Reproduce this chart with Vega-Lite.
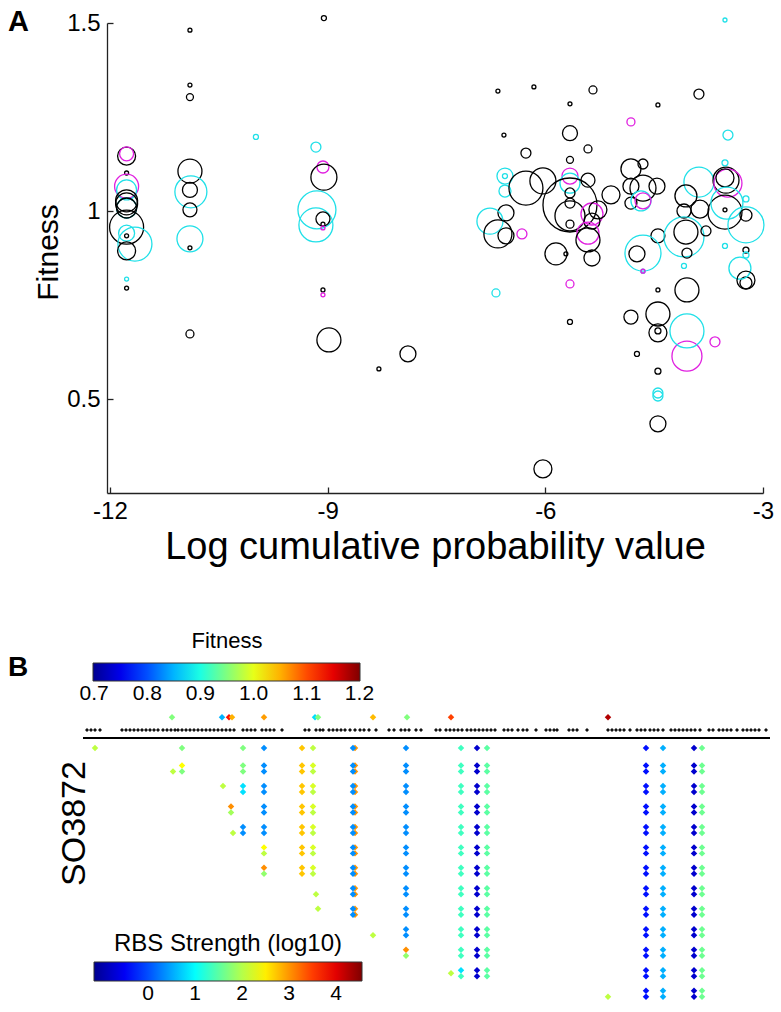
{
  "$schema": "https://vega.github.io/schema/vega-lite/v6.json",
  "background": "white",
  "autosize": {"type": "pad"},
  "padding": {"left": 8, "top": 8, "right": 0, "bottom": 0},
  "config": {
    "font": "Liberation Sans",
    "view": {"stroke": null},
    "axis": {"grid": false, "labelColor": "#000", "titleColor": "#000", "domainColor": "#222", "tickColor": "#222", "titleFontWeight": "normal"},
    "legend": {"labelColor": "#000", "titleColor": "#000", "titleFontWeight": "normal", "titleLimit": 500}
  },
  "spacing": 65,
  "resolve": {"scale": {"color": "independent", "fill": "independent", "stroke": "independent", "size": "independent"}, "legend": {"color": "independent", "fill": "independent", "stroke": "independent", "size": "independent"}},
  "vconcat": [
    {
      "width": 656,
      "height": 470,
      "title": {"text": "A", "anchor": "start", "frame": "group", "dx": -99, "dy": 30, "fontSize": 29, "fontWeight": "bold", "color": "#000"},
      "data": {"values": [
        {"x":-11.77,"y":1.146,"n":9,"g":"k"},
        {"x":-11.77,"y":1.152,"n":7,"g":"m"},
        {"x":-11.77,"y":1.101,"n":2,"g":"k"},
        {"x":-11.77,"y":1.066,"n":12,"g":"m"},
        {"x":-11.77,"y":1.056,"n":10,"g":"c"},
        {"x":-11.77,"y":1.008,"n":10,"g":"c"},
        {"x":-11.77,"y":1.027,"n":11,"g":"k"},
        {"x":-11.77,"y":1.019,"n":11,"g":"k"},
        {"x":-11.77,"y":1.008,"n":10,"g":"k"},
        {"x":-11.77,"y":0.957,"n":17,"g":"k"},
        {"x":-11.77,"y":0.941,"n":8,"g":"c"},
        {"x":-11.77,"y":0.934,"n":2,"g":"k"},
        {"x":-11.655,"y":0.912,"n":17,"g":"c"},
        {"x":-11.77,"y":0.894,"n":9,"g":"k"},
        {"x":-11.77,"y":0.819,"n":2,"g":"c"},
        {"x":-11.77,"y":0.795,"n":2,"g":"k"},
        {"x":-10.897,"y":1.481,"n":2,"g":"k"},
        {"x":-10.897,"y":1.335,"n":2,"g":"k"},
        {"x":-10.897,"y":1.303,"n":3.5,"g":"k"},
        {"x":-10.897,"y":1.106,"n":12,"g":"k"},
        {"x":-10.884,"y":1.051,"n":16,"g":"c"},
        {"x":-10.897,"y":1.056,"n":7.5,"g":"k"},
        {"x":-10.897,"y":1.003,"n":7,"g":"k"},
        {"x":-10.897,"y":0.926,"n":13,"g":"c"},
        {"x":-10.897,"y":0.902,"n":2,"g":"k"},
        {"x":-10.897,"y":0.673,"n":4,"g":"k"},
        {"x":-9.988,"y":1.197,"n":2.5,"g":"c"},
        {"x":-9.051,"y":1.513,"n":2.5,"g":"k"},
        {"x":-9.161,"y":1.17,"n":5,"g":"c"},
        {"x":-9.064,"y":1.117,"n":6,"g":"m"},
        {"x":-9.051,"y":1.09,"n":13,"g":"k"},
        {"x":-9.147,"y":1.003,"n":19,"g":"c"},
        {"x":-9.161,"y":0.963,"n":17,"g":"c"},
        {"x":-9.064,"y":0.979,"n":7,"g":"k"},
        {"x":-9.064,"y":0.965,"n":2,"g":"k"},
        {"x":-9.064,"y":0.955,"n":2,"g":"m"},
        {"x":-9.064,"y":0.79,"n":2,"g":"k"},
        {"x":-9.064,"y":0.777,"n":2,"g":"m"},
        {"x":-8.982,"y":0.657,"n":12,"g":"k"},
        {"x":-8.293,"y":0.58,"n":2,"g":"k"},
        {"x":-7.893,"y":0.62,"n":8,"g":"k"},
        {"x":-3.524,"y":1.508,"n":2,"g":"c"},
        {"x":-6.653,"y":1.319,"n":2,"g":"k"},
        {"x":-6.157,"y":1.33,"n":2,"g":"k"},
        {"x":-5.343,"y":1.322,"n":4,"g":"k"},
        {"x":-5.66,"y":1.285,"n":2,"g":"k"},
        {"x":-4.448,"y":1.282,"n":2,"g":"k"},
        {"x":-3.883,"y":1.311,"n":5,"g":"k"},
        {"x":-4.82,"y":1.237,"n":4,"g":"m"},
        {"x":-6.57,"y":1.202,"n":2,"g":"k"},
        {"x":-5.66,"y":1.207,"n":7.5,"g":"k"},
        {"x":-5.412,"y":1.165,"n":4,"g":"k"},
        {"x":-6.267,"y":1.154,"n":5,"g":"k"},
        {"x":-3.483,"y":1.202,"n":5,"g":"c"},
        {"x":-5.66,"y":1.136,"n":3.5,"g":"k"},
        {"x":-6.556,"y":1.093,"n":8,"g":"c"},
        {"x":-6.556,"y":1.093,"n":2.5,"g":"c"},
        {"x":-6.556,"y":1.053,"n":6,"g":"c"},
        {"x":-6.267,"y":1.061,"n":17,"g":"k"},
        {"x":-6.033,"y":1.08,"n":13,"g":"k"},
        {"x":-5.66,"y":1.093,"n":8,"g":"m"},
        {"x":-5.66,"y":1.074,"n":10,"g":"c"},
        {"x":-5.66,"y":1.016,"n":27,"g":"k"},
        {"x":-5.66,"y":1.048,"n":5,"g":"k"},
        {"x":-5.66,"y":1.021,"n":5,"g":"k"},
        {"x":-5.412,"y":1.082,"n":7,"g":"k"},
        {"x":-5.095,"y":1.043,"n":9,"g":"k"},
        {"x":-5.66,"y":0.987,"n":15,"g":"k"},
        {"x":-5.66,"y":0.965,"n":4,"g":"k"},
        {"x":-5.357,"y":0.992,"n":11,"g":"m"},
        {"x":-5.275,"y":1.003,"n":9,"g":"k"},
        {"x":-5.357,"y":0.973,"n":8,"g":"k"},
        {"x":-5.412,"y":0.941,"n":11,"g":"m"},
        {"x":-5.412,"y":0.923,"n":12,"g":"k"},
        {"x":-5.357,"y":0.875,"n":8,"g":"k"},
        {"x":-6.542,"y":0.995,"n":8,"g":"k"},
        {"x":-6.763,"y":0.973,"n":13,"g":"c"},
        {"x":-6.653,"y":0.939,"n":14,"g":"k"},
        {"x":-6.542,"y":0.934,"n":8,"g":"k"},
        {"x":-6.322,"y":0.939,"n":5,"g":"m"},
        {"x":-5.853,"y":0.886,"n":11,"g":"k"},
        {"x":-5.716,"y":0.886,"n":2,"g":"k"},
        {"x":-6.68,"y":0.782,"n":4,"g":"c"},
        {"x":-5.66,"y":0.806,"n":4,"g":"m"},
        {"x":-5.66,"y":0.705,"n":2.5,"g":"k"},
        {"x":-4.82,"y":1.112,"n":10,"g":"k"},
        {"x":-4.654,"y":1.125,"n":5,"g":"k"},
        {"x":-4.654,"y":1.061,"n":13,"g":"k"},
        {"x":-4.82,"y":1.066,"n":8,"g":"k"},
        {"x":-4.461,"y":1.066,"n":8,"g":"k"},
        {"x":-4.82,"y":1.021,"n":6,"g":"k"},
        {"x":-4.682,"y":1.027,"n":10,"g":"c"},
        {"x":-4.654,"y":1.027,"n":8,"g":"m"},
        {"x":-4.448,"y":0.934,"n":7,"g":"k"},
        {"x":-4.654,"y":0.888,"n":18,"g":"c"},
        {"x":-4.737,"y":0.886,"n":8,"g":"k"},
        {"x":-4.654,"y":0.84,"n":2,"g":"c"},
        {"x":-4.654,"y":0.84,"n":2,"g":"m"},
        {"x":-4.448,"y":0.79,"n":2,"g":"k"},
        {"x":-4.82,"y":0.718,"n":7,"g":"k"},
        {"x":-4.448,"y":0.726,"n":12,"g":"k"},
        {"x":-4.448,"y":0.676,"n":9,"g":"k"},
        {"x":-4.448,"y":0.681,"n":3,"g":"k"},
        {"x":-4.448,"y":0.574,"n":3,"g":"k"},
        {"x":-4.448,"y":0.516,"n":5,"g":"c"},
        {"x":-4.448,"y":0.508,"n":5,"g":"c"},
        {"x":-4.448,"y":0.434,"n":8,"g":"k"},
        {"x":-6.033,"y":0.314,"n":9,"g":"k"},
        {"x":-4.737,"y":0.62,"n":2.5,"g":"k"},
        {"x":-3.662,"y":0.652,"n":5,"g":"m"},
        {"x":-4.048,"y":0.614,"n":15,"g":"m"},
        {"x":-4.048,"y":0.681,"n":17,"g":"c"},
        {"x":-4.048,"y":0.79,"n":12,"g":"k"},
        {"x":-3.235,"y":0.809,"n":6,"g":"k"},
        {"x":-3.883,"y":1.077,"n":15,"g":"c"},
        {"x":-3.51,"y":1.082,"n":13,"g":"k"},
        {"x":-3.483,"y":1.074,"n":14,"g":"m"},
        {"x":-3.524,"y":1.088,"n":9,"g":"k"},
        {"x":-3.524,"y":1.128,"n":3,"g":"c"},
        {"x":-3.235,"y":1.032,"n":3,"g":"c"},
        {"x":-4.062,"y":1.04,"n":11,"g":"k"},
        {"x":-4.089,"y":1.0,"n":7,"g":"k"},
        {"x":-3.869,"y":1.005,"n":9,"g":"k"},
        {"x":-3.524,"y":0.997,"n":17,"g":"k"},
        {"x":-3.497,"y":1.021,"n":16,"g":"c"},
        {"x":-3.524,"y":1.003,"n":2,"g":"k"},
        {"x":-3.235,"y":0.989,"n":6,"g":"k"},
        {"x":-3.235,"y":0.963,"n":18,"g":"c"},
        {"x":-4.062,"y":0.944,"n":12,"g":"k"},
        {"x":-4.089,"y":0.931,"n":20,"g":"c"},
        {"x":-3.786,"y":0.947,"n":5,"g":"k"},
        {"x":-4.048,"y":0.888,"n":5,"g":"k"},
        {"x":-4.089,"y":0.854,"n":2.5,"g":"c"},
        {"x":-3.524,"y":0.907,"n":2.5,"g":"c"},
        {"x":-3.318,"y":0.848,"n":11,"g":"c"},
        {"x":-3.235,"y":0.816,"n":9,"g":"k"},
        {"x":-3.235,"y":0.896,"n":3,"g":"k"},
        {"x":-3.235,"y":0.883,"n":3,"g":"c"}
      ]},
      "mark": {"type": "point", "shape": "circle", "filled": false, "strokeWidth": 1.3, "opacity": 1},
      "encoding": {
        "x": {"field": "x", "type": "quantitative",
          "scale": {"domain": [-12.04, -3], "nice": false, "zero": false},
          "axis": {"values": [-12, -9, -6, -3], "labelExpr": "toString(datum.value)", "title": "Log cumulative probability value",
            "titleFontSize": 38, "labelFontSize": 24, "tickSize": -6, "labelPadding": 12, "titleY": 35,
            "domainWidth": 1.3, "tickWidth": 1.3, "labelFlush": false, "labelOverlap": false}},
        "y": {"field": "y", "type": "quantitative",
          "scale": {"domain": [0.25, 1.5], "nice": false, "zero": false},
          "axis": {"values": [0.5, 1, 1.5], "labelExpr": "toString(datum.value)", "title": "Fitness",
            "titleFontSize": 30, "labelFontSize": 24, "tickSize": -6, "labelPadding": 13, "titleX": -44, "titleY": 229,
            "domainWidth": 1.3, "tickWidth": 1.3, "labelFlush": false, "labelOverlap": false}},
        "stroke": {"field": "g", "type": "nominal", "scale": {"domain": ["k", "c", "m"], "range": ["#000000", "#20e0e8", "#e020e0"]}, "legend": null},
        "size": {"field": "n", "type": "quantitative", "scale": {"type": "pow", "exponent": 2, "domain": [0, 30], "range": [0, 3600]}, "legend": null}
      }
    },
    {
      "width": 656,
      "height": 297,
      "title": {"text": "B", "anchor": "start", "frame": "group", "dx": -99, "dy": 55, "fontSize": 28, "fontWeight": "bold", "color": "#000"},
      "layer": [
        {
          "data": {"values": [{"p0": 0, "p1": 687, "r": -0.49}]},
          "mark": {"type": "rule", "color": "#000", "strokeWidth": 2},
          "encoding": {
            "x": {"field": "p0", "type": "quantitative", "scale": {"domain": [24, 680], "nice": false, "zero": false}, "axis": null},
            "x2": {"field": "p1"},
            "y": {"field": "r", "type": "quantitative", "scale": {"domain": [-2, 12.5], "nice": false, "zero": false, "reverse": true},
              "axis": {"title": "SO3872", "labels": false, "ticks": false, "domain": false, "grid": false, "titleFontSize": 34, "titleX": -16, "titleY": 116}}
          }
        },
        {
          "data": {"values": [
            {"p":4},{"p":8},{"p":12},{"p":17},
            {"p":39},{"p":43},{"p":47},{"p":51},{"p":55},{"p":59},{"p":63},{"p":67},{"p":71},{"p":75},
            {"p":80},{"p":84},{"p":88},{"p":92},{"p":95},
            {"p":99},{"p":103},{"p":107},{"p":111},{"p":115},{"p":119},{"p":123},{"p":127},{"p":131},{"p":135},{"p":139},{"p":143},{"p":147},{"p":151},
            {"p":160},{"p":164},{"p":168},{"p":172},{"p":179},{"p":183},{"p":187},{"p":191},{"p":199},
            {"p":222},{"p":226},{"p":233},{"p":237},{"p":240},
            {"p":246},{"p":250},{"p":254},{"p":258},{"p":262},{"p":267},{"p":272},{"p":277},{"p":281},{"p":286},{"p":293},
            {"p":306},{"p":311},{"p":318},{"p":322},{"p":326},{"p":333},{"p":338},
            {"p":353},{"p":357},{"p":363},{"p":367},{"p":371},{"p":375},{"p":379},{"p":384},
            {"p":388},{"p":392},{"p":396},{"p":400},{"p":404},{"p":408},{"p":412},
            {"p":421},{"p":425},{"p":429},{"p":435},{"p":440},{"p":444},
            {"p":453},
            {"p":463},{"p":467},{"p":471},{"p":474},
            {"p":486},{"p":490},{"p":494},{"p":504},
            {"p":525},{"p":529},{"p":533},{"p":537},{"p":541},{"p":547},
            {"p":554},{"p":558},{"p":562},{"p":567},{"p":571},{"p":575},{"p":580},
            {"p":588},{"p":592},{"p":596},{"p":600},{"p":604},{"p":608},{"p":612},{"p":617},
            {"p":626},{"p":630},{"p":636},{"p":640},{"p":644},{"p":648},{"p":654},
            {"p":660},{"p":664},{"p":668},{"p":672},{"p":676},{"p":683}
          ]},
          "mark": {"type": "point", "shape": "diamond", "filled": true, "size": 16, "color": "#111", "opacity": 1},
          "encoding": {
            "x": {"field": "p", "type": "quantitative", "scale": {"domain": [24, 680], "nice": false, "zero": false}, "axis": null},
            "y": {"datum": -0.88, "type": "quantitative", "scale": {"domain": [-2, 12.5], "nice": false, "zero": false, "reverse": true},
              "axis": {"title": "SO3872", "labels": false, "ticks": false, "domain": false, "grid": false, "titleFontSize": 34, "titleX": -16, "titleY": 116}}
          }
        },
        {
          "data": {"values": [
            {"p":89,"f":0.95},{"p":139,"f":0.849},{"p":146,"f":1.13},{"p":149,"f":1.05},{"p":181,"f":1.06},
            {"p":232,"f":0.87},{"p":235,"f":0.95},{"p":290,"f":1.045},{"p":324,"f":0.95},{"p":368,"f":1.105},{"p":525,"f":1.175}
          ]},
          "mark": {"type": "point", "shape": "diamond", "filled": true, "size": 42, "opacity": 1},
          "encoding": {
            "x": {"field": "p", "type": "quantitative", "scale": {"domain": [24, 680], "nice": false, "zero": false}, "axis": null},
            "y": {"datum": -1.5, "type": "quantitative", "scale": {"domain": [-2, 12.5], "nice": false, "zero": false, "reverse": true},
              "axis": {"title": "SO3872", "labels": false, "ticks": false, "domain": false, "grid": false, "titleFontSize": 34, "titleX": -16, "titleY": 116}},
            "color": {"field": "f", "type": "quantitative",
              "scale": {"domain": [0.698, 0.76075, 0.8235, 0.88625, 0.949, 1.01175, 1.0745, 1.13725, 1.2],
                "range": ["#00008f", "#0000ff", "#007fff", "#00ffff", "#7fff7f", "#ffff00", "#ff7f00", "#ff0000", "#7f0000"], "interpolate": "rgb"},
              "legend": {"orient": "none", "direction": "horizontal", "legendX": -14, "legendY": -76, "gradientLength": 267, "gradientThickness": 18,
                "title": "Fitness", "titleFontSize": 22, "titleAnchor": "middle", "titlePadding": 10, "labelFontSize": 21,
                "values": [0.7, 0.8, 0.9, 1.0, 1.1, 1.199], "labelExpr": "format(datum.value, '.1f')", "gradientStrokeColor": "#333", "gradientStrokeWidth": 1}}
          }
        },
        {
          "data": {"values": [
            {"p":12,"r":0,"v":2.05},{"p":99,"r":0,"v":1.7},{"p":160,"r":0,"v":1.7},{"p":181,"r":0,"v":0.36},
            {"p":219,"r":0,"v":2.73},{"p":230,"r":0,"v":2.05},{"p":272,"r":0,"v":3.0},{"p":270,"r":0,"v":0.36},
            {"p":323,"r":0,"v":0.36},{"p":378,"r":0,"v":1.34},{"p":394,"r":0,"v":-0.75},{"p":404,"r":0,"v":1.5},
            {"p":563,"r":0,"v":-0.35},{"p":580,"r":0,"v":0.54},{"p":611,"r":0,"v":-0.75},{"p":619,"r":0,"v":1.6},
            {"p":368,"r":11,"v":2.05}
          ]},
          "mark": {"type": "point", "shape": "diamond", "filled": true, "size": 42, "opacity": 1},
          "encoding": {
            "x": {"field": "p", "type": "quantitative", "scale": {"domain": [24, 680], "nice": false, "zero": false}, "axis": null},
            "y": {"field": "r", "type": "quantitative", "scale": {"domain": [-2, 12.5], "nice": false, "zero": false, "reverse": true},
              "axis": {"title": "SO3872", "labels": false, "ticks": false, "domain": false, "grid": false, "titleFontSize": 34, "titleX": -16, "titleY": 116}},
            "fill": {"field": "v", "type": "quantitative",
              "scale": {"domain": [-1.15, -0.4375, 0.275, 0.9875, 1.7, 2.4125, 3.125, 3.8375, 4.55],
                "range": ["#00008f", "#0000ff", "#007fff", "#00ffff", "#7fff7f", "#ffff00", "#ff7f00", "#ff0000", "#7f0000"], "interpolate": "rgb"},
              "legend": {"orient": "none", "direction": "horizontal", "legendX": -13, "legendY": 225, "gradientLength": 268, "gradientThickness": 19,
                "title": "RBS Strength (log10)", "titleFontSize": 24, "titleAnchor": "middle", "titlePadding": 6, "labelFontSize": 21,
                "values": [0, 1, 2, 3, 4], "format": "d", "gradientStrokeColor": "#333", "gradientStrokeWidth": 1}}
          }
        },
        {
          "data": {"name": "pairsTop", "values": [
            {"p":90,"r":1,"b":2.05},{"p":99,"r":1,"t":2.41,"b":1.7},{"p":140,"r":2,"t":2.05},{"p":148,"r":3,"t":3.04,"b":1.9},{"p":150,"r":4,"b":2.05},
            {"p":160,"r":1,"t":1.7,"b":1.7},{"p":160,"r":2,"t":0.82,"b":0.82},{"p":160,"r":4,"t":0.36,"b":0.36},
            {"p":181,"r":1,"t":0.36,"b":0.36},{"p":181,"r":2,"t":0.36,"b":0.36},{"p":181,"r":3,"t":0.36,"b":0.36},{"p":181,"r":4,"t":0.36,"b":0.36},{"p":181,"r":5,"t":2.41,"b":2.05},{"p":181,"r":6,"t":3.04,"b":1.8},
            {"p":219,"r":1,"t":2.73,"b":2.73},{"p":219,"r":2,"t":2.73,"b":2.73},{"p":219,"r":3,"t":2.73,"b":2.73},{"p":219,"r":4,"t":2.73,"b":2.73},{"p":219,"r":5,"t":2.73,"b":2.73},{"p":219,"r":6,"t":2.73,"b":2.73},
            {"p":230,"r":1,"t":2.2,"b":2.05},{"p":230,"r":2,"t":2.2,"b":2.05},{"p":230,"r":3,"t":2.2,"b":2.05},{"p":230,"r":4,"t":2.2,"b":2.05},{"p":230,"r":5,"t":2.2,"b":2.05},{"p":230,"r":6,"t":2.2,"b":2.05},
            {"p":233,"r":7,"b":2.05},{"p":235,"r":8,"t":2.05},
            {"p":272,"r":1,"t":3.0,"b":3.0},{"p":272,"r":2,"t":3.0,"b":3.0},{"p":272,"r":3,"t":3.0,"b":3.0},{"p":272,"r":4,"t":3.0,"b":3.0},{"p":272,"r":5,"t":3.0,"b":3.0},{"p":272,"r":6,"t":3.0,"b":3.0},{"p":272,"r":7,"t":3.0,"b":3.0},{"p":272,"r":8,"t":3.0,"b":3.0},
            {"p":270,"r":1,"t":0.36,"b":0.36},{"p":270,"r":2,"t":0.36,"b":0.36},{"p":270,"r":3,"t":0.36,"b":0.36},{"p":270,"r":4,"t":0.36,"b":0.36},{"p":270,"r":5,"t":0.36,"b":0.36},{"p":270,"r":6,"t":0.36,"b":0.36},{"p":270,"r":7,"t":0.36,"b":0.36},{"p":270,"r":8,"t":0.36,"b":0.36},
            {"p":290,"r":9,"b":2.05},
            {"p":323,"r":1,"t":0.36,"b":0.36},{"p":323,"r":2,"t":0.36,"b":0.36},{"p":323,"r":3,"t":0.36,"b":0.36},{"p":323,"r":4,"t":0.36,"b":0.36},{"p":323,"r":5,"t":0.36,"b":0.36},{"p":323,"r":6,"t":0.36,"b":0.36},{"p":323,"r":7,"t":0.36,"b":0.36},{"p":323,"r":8,"t":0.36,"b":0.36},{"p":323,"r":9,"t":0.36,"b":0.36},{"p":323,"r":10,"t":3.04,"b":1.8},
            {"p":378,"r":1,"t":1.34,"b":1.34},{"p":378,"r":2,"t":1.34,"b":1.34},{"p":378,"r":3,"t":1.34,"b":1.34},{"p":378,"r":4,"t":1.34,"b":1.34},{"p":378,"r":5,"t":1.34,"b":1.34},{"p":378,"r":6,"t":1.34,"b":1.34},{"p":378,"r":7,"t":1.34,"b":1.34},{"p":378,"r":8,"t":1.34,"b":1.34},{"p":378,"r":9,"t":1.34,"b":1.34},{"p":378,"r":10,"t":1.34,"b":1.34},{"p":378,"r":11,"t":0.82,"b":1.34},
            {"p":394,"r":1,"t":-0.75,"b":-0.75},{"p":394,"r":2,"t":-0.75,"b":-0.75},{"p":394,"r":3,"t":-0.75,"b":-0.75},{"p":394,"r":4,"t":-0.75,"b":-0.75},{"p":394,"r":5,"t":-0.75,"b":-0.75},{"p":394,"r":6,"t":-0.75,"b":-0.75},{"p":394,"r":7,"t":-0.75,"b":-0.75},{"p":394,"r":8,"t":-0.75,"b":-0.75},{"p":394,"r":9,"t":-0.75,"b":-0.75},{"p":394,"r":10,"t":-0.75,"b":-0.75},{"p":394,"r":11,"t":-0.75,"b":-0.75},
            {"p":404,"r":1,"t":1.5,"b":1.5},{"p":404,"r":2,"t":1.5,"b":1.5},{"p":404,"r":3,"t":1.5,"b":1.5},{"p":404,"r":4,"t":1.5,"b":1.5},{"p":404,"r":5,"t":1.5,"b":1.5},{"p":404,"r":6,"t":1.5,"b":1.5},{"p":404,"r":7,"t":1.5,"b":1.5},{"p":404,"r":8,"t":1.5,"b":1.5},{"p":404,"r":9,"t":1.5,"b":1.5},{"p":404,"r":10,"t":1.5,"b":1.5},{"p":404,"r":11,"t":1.5,"b":1.5},
            {"p":525,"r":12,"b":2.05},
            {"p":563,"r":1,"t":-0.35,"b":-0.35},{"p":563,"r":2,"t":-0.35,"b":-0.35},{"p":563,"r":3,"t":-0.35,"b":-0.35},{"p":563,"r":4,"t":-0.35,"b":-0.35},{"p":563,"r":5,"t":-0.35,"b":-0.35},{"p":563,"r":6,"t":-0.35,"b":-0.35},{"p":563,"r":7,"t":-0.35,"b":-0.35},{"p":563,"r":8,"t":-0.35,"b":-0.35},{"p":563,"r":9,"t":-0.35,"b":-0.35},{"p":563,"r":10,"t":-0.35,"b":-0.35},{"p":563,"r":11,"t":-0.35,"b":-0.35},{"p":563,"r":12,"t":-0.35,"b":-0.35},
            {"p":580,"r":1,"t":0.54,"b":0.54},{"p":580,"r":2,"t":0.54,"b":0.54},{"p":580,"r":3,"t":0.54,"b":0.54},{"p":580,"r":4,"t":0.54,"b":0.54},{"p":580,"r":5,"t":0.54,"b":0.54},{"p":580,"r":6,"t":0.54,"b":0.54},{"p":580,"r":7,"t":0.54,"b":0.54},{"p":580,"r":8,"t":0.54,"b":0.54},{"p":580,"r":9,"t":0.54,"b":0.54},{"p":580,"r":10,"t":0.54,"b":0.54},{"p":580,"r":11,"t":0.54,"b":0.54},{"p":580,"r":12,"t":0.54,"b":0.54},
            {"p":611,"r":1,"t":-0.75,"b":-0.75},{"p":611,"r":2,"t":-0.75,"b":-0.75},{"p":611,"r":3,"t":-0.75,"b":-0.75},{"p":611,"r":4,"t":-0.75,"b":-0.75},{"p":611,"r":5,"t":-0.75,"b":-0.75},{"p":611,"r":6,"t":-0.75,"b":-0.75},{"p":611,"r":7,"t":-0.75,"b":-0.75},{"p":611,"r":8,"t":-0.75,"b":-0.75},{"p":611,"r":9,"t":-0.75,"b":-0.75},{"p":611,"r":10,"t":-0.75,"b":-0.75},{"p":611,"r":11,"t":-0.75,"b":-0.75},{"p":611,"r":12,"t":-0.75,"b":-0.75},
            {"p":619,"r":1,"t":1.6,"b":1.6},{"p":619,"r":2,"t":1.6,"b":1.6},{"p":619,"r":3,"t":1.6,"b":1.6},{"p":619,"r":4,"t":1.6,"b":1.6},{"p":619,"r":5,"t":1.6,"b":1.6},{"p":619,"r":6,"t":1.6,"b":1.6},{"p":619,"r":7,"t":1.6,"b":1.6},{"p":619,"r":8,"t":1.6,"b":1.6},{"p":619,"r":9,"t":1.6,"b":1.6},{"p":619,"r":10,"t":1.6,"b":1.6},{"p":619,"r":11,"t":1.6,"b":1.6},{"p":619,"r":12,"t":1.6,"b":1.6}
          ]},
          "transform": [{"filter": "isValid(datum.t)"}],
          "mark": {"type": "point", "shape": "diamond", "filled": true, "size": 42, "opacity": 1, "yOffset": -3},
          "encoding": {
            "x": {"field": "p", "type": "quantitative", "scale": {"domain": [24, 680], "nice": false, "zero": false}, "axis": null},
            "y": {"field": "r", "type": "quantitative", "scale": {"domain": [-2, 12.5], "nice": false, "zero": false, "reverse": true},
              "axis": {"title": "SO3872", "labels": false, "ticks": false, "domain": false, "grid": false, "titleFontSize": 34, "titleX": -16, "titleY": 116}},
            "fill": {"field": "t", "type": "quantitative",
              "scale": {"domain": [-1.15, -0.4375, 0.275, 0.9875, 1.7, 2.4125, 3.125, 3.8375, 4.55],
                "range": ["#00008f", "#0000ff", "#007fff", "#00ffff", "#7fff7f", "#ffff00", "#ff7f00", "#ff0000", "#7f0000"], "interpolate": "rgb"},
              "legend": {"orient": "none", "direction": "horizontal", "legendX": -13, "legendY": 225, "gradientLength": 268, "gradientThickness": 19,
                "title": "RBS Strength (log10)", "titleFontSize": 24, "titleAnchor": "middle", "titlePadding": 6, "labelFontSize": 21,
                "values": [0, 1, 2, 3, 4], "format": "d", "gradientStrokeColor": "#333", "gradientStrokeWidth": 1}}
          }
        },
        {
          "data": {"name": "pairsTop"},
          "transform": [{"filter": "isValid(datum.b)"}],
          "mark": {"type": "point", "shape": "diamond", "filled": true, "size": 42, "opacity": 1, "yOffset": 3},
          "encoding": {
            "x": {"field": "p", "type": "quantitative", "scale": {"domain": [24, 680], "nice": false, "zero": false}, "axis": null},
            "y": {"field": "r", "type": "quantitative", "scale": {"domain": [-2, 12.5], "nice": false, "zero": false, "reverse": true},
              "axis": {"title": "SO3872", "labels": false, "ticks": false, "domain": false, "grid": false, "titleFontSize": 34, "titleX": -16, "titleY": 116}},
            "fill": {"field": "b", "type": "quantitative",
              "scale": {"domain": [-1.15, -0.4375, 0.275, 0.9875, 1.7, 2.4125, 3.125, 3.8375, 4.55],
                "range": ["#00008f", "#0000ff", "#007fff", "#00ffff", "#7fff7f", "#ffff00", "#ff7f00", "#ff0000", "#7f0000"], "interpolate": "rgb"},
              "legend": {"orient": "none", "direction": "horizontal", "legendX": -13, "legendY": 225, "gradientLength": 268, "gradientThickness": 19,
                "title": "RBS Strength (log10)", "titleFontSize": 24, "titleAnchor": "middle", "titlePadding": 6, "labelFontSize": 21,
                "values": [0, 1, 2, 3, 4], "format": "d", "gradientStrokeColor": "#333", "gradientStrokeWidth": 1}}
          }
        }
      ]
    }
  ]
}
